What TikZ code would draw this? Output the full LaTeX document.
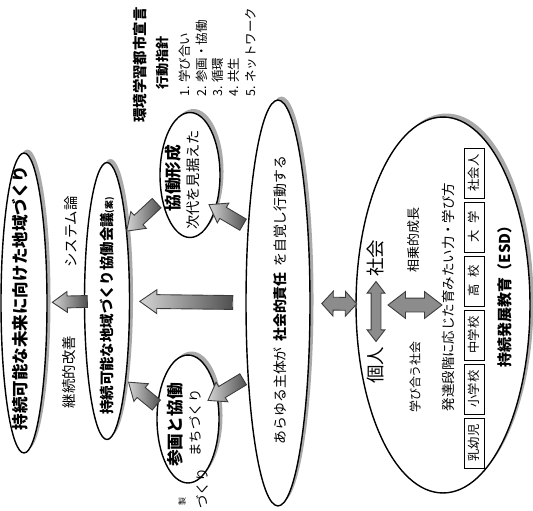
\documentclass[tikz,border=0pt]{standalone}
\usepackage{fontspec}
\setmainfont{Noto Sans CJK JP}
\usetikzlibrary{shapes.geometric,shapes.arrows,shadows}
\definecolor{shadowgray}{HTML}{8E8E8E}
\definecolor{arrowdark}{HTML}{3C3C3C}
\definecolor{arrowlight}{HTML}{D4D4D4}
\newcommand{\fsz}[1]{\fontsize{#1pt}{#1pt}\selectfont}
\tikzset{
  oval/.style={ellipse,draw,line width=.8pt,fill=white,inner sep=0pt,
    drop shadow={shadow xshift=2pt,shadow yshift=2pt,fill=shadowgray,opacity=.75}},
  vlabel/.style={rotate=90,inner sep=0pt},
  blkarrow/.style={single arrow,sloped,allow upside down,draw=arrowdark,line width=.5pt,
    left color=arrowlight,right color=arrowdark!90,inner xsep=0pt,inner ysep=.12cm,
    single arrow head extend=.1cm,single arrow tip angle=70},
  dblarrow/.style={double arrow,sloped,allow upside down,draw=arrowdark,line width=.5pt,
    fill=black!45,inner xsep=0pt,inner ysep=.12cm,double arrow head extend=.12cm,
    double arrow tip angle=75},
  agebox/.style={draw,line width=.5pt,rotate=90,minimum width=1cm,minimum height=.4cm,
    inner sep=0pt,font=\fsz{7}}
}
\begin{document}
\begin{tikzpicture}[x=.02cm,y=-.02cm]
\clip (0,0) rectangle (533,510);
% ovals
\node[oval,minimum width=.92cm,minimum height=6cm] (goal) at (24,303) {};
\node[oval,minimum width=.9cm,minimum height=5.54cm] (kaigi) at (107,301) {};
\node[oval,minimum width=1.2cm,minimum height=2.5cm] (kyodo) at (190,175) {};
\node[oval,minimum width=1.24cm,minimum height=2.56cm] (sankaku) at (188,419) {};
\node[oval,minimum width=1.28cm,minimum height=8.12cm] (sekinin) at (278,303) {};
\node[oval,minimum width=3.48cm,minimum height=7.52cm] (esd) at (443,305) {};

% block arrows
\path (kaigi) -- node[blkarrow,inner ysep=.11cm,single arrow head extend=.09cm,minimum height=.7cm,pos=.27] (arKaigiGoal) {} (goal);
\path (sekinin) -- node[blkarrow,inner ysep=.13cm,minimum height=1.86cm,pos=.47] (arSekininKaigi) {} (kaigi);
\coordinate (kbTail) at (160,200); \coordinate (kbTip) at (130,228);
\path (kbTail) -- node[blkarrow,minimum height=.82cm] (arKyodoKaigi) {} (kbTip);
\coordinate (skTail) at (247,227); \coordinate (skTip) at (213,207);
\path (skTail) -- node[blkarrow,minimum height=.79cm] (arSekininKyodo) {} (skTip);
\coordinate (sbTail) at (160,408); \coordinate (sbTip) at (132,385);
\path (sbTail) -- node[blkarrow,minimum height=.72cm] (arSankakuKaigi) {} (sbTip);
\coordinate (ssTail) at (247,377); \coordinate (ssTip) at (212,398);
\path (ssTail) -- node[blkarrow,minimum height=.82cm] (arSekininSankaku) {} (ssTip);

% texts
\node[vlabel,font=\fsz{9.4}\bfseries] (goaltext) at (20,298) {持続可能な未来に向けた地域づくり};
\node[vlabel,font=\fsz{8.2}] (kaizen) at (69,372) {継続的改善};
\node[vlabel,font=\fsz{8.2}] (system) at (71,232) {システム論};
\node[vlabel,font=\fsz{8.2}\bfseries] (kaigitext) at (107,306) {持続可能な地域づくり協働会議{\fsz{5}(案)}};
\node[vlabel,font=\fsz{9.5}\bfseries] (kyodotext) at (173,178) {協働形成};
\node[vlabel,font=\fsz{8.1}] (jidai) at (193,180) {次代を見据えた};
\node[vlabel,font=\fsz{9.5}\bfseries] (sankakutext) at (175,425) {参画と協働};
\node[vlabel,font=\fsz{7.6}] (machi) at (195,423) {まちづくり};
\node[vlabel,font=\fsz{7.9}] (sekinintext) at (280,300) {あらゆる主体が\hspace{.4em}{\bfseries 社会的責任}\hspace{.4em}を自覚し行動する};
\node[vlabel,font=\fsz{7.6},anchor=east] (frag1) at (202,468) {づくり};
\node[vlabel,font=\fsz{4.5}] (frag2) at (182,502) {製};

% declaration
\node[vlabel,font=\fsz{8.2}\bfseries] (sengen) at (140,65) {環境学習都市宣言};
\node[vlabel,font=\fsz{7.5}\bfseries] (shishin) at (163,63) {行動指針};
\node[vlabel,font=\fsz{7.1},anchor=west] (shishin1) at (185,97) {1. 学び合い};
\node[vlabel,font=\fsz{7.1},anchor=west] (shishin2) at (201.5,97) {2. 参画・協働};
\node[vlabel,font=\fsz{7.1},anchor=west] (shishin3) at (217.5,97) {3. 循環};
\node[vlabel,font=\fsz{7.1},anchor=west] (shishin4) at (233.5,97) {4. 共生};
\node[vlabel,font=\fsz{7.1},anchor=west] (shishin5) at (250.5,97) {5. ネットワーク};

% ESD
\node[vlabel,font=\fsz{10.5}] (kojin) at (376,365) {個人};
\node[vlabel,font=\fsz{10.5}] (shakai) at (376,258) {社会};
\node[vlabel,font=\fsz{6.8}] (manabi) at (415,377) {学び合う社会};
\node[vlabel,font=\fsz{7.4}] (sojo) at (414,240) {相乗的成長};
\node[vlabel,font=\fsz{7.65}] (hattatsu) at (448,297) {発達段階に応じた育みたい力・学び方};
\node[agebox] (age1) at (474,443) {乳幼児};
\node[agebox] (age2) at (474,389) {小学校};
\node[agebox] (age3) at (474,335) {中学校};
\node[agebox] (age4) at (474,281) {高\hspace{.5em}校};
\node[agebox] (age5) at (474,227) {大\hspace{.5em}学};
\node[agebox] (age6) at (474,173) {社会人};
\node[vlabel,font=\fsz{8.5}\bfseries] (esdtext) at (505,293) {持続発展教育（ESD）};

% double arrows
\path (sekinin) -- node[dblarrow,double arrow tip angle=95,minimum height=.7cm,pos=.64] (arSekininEsd) {} (esd);
\path (kojin) -- node[dblarrow,inner ysep=.09cm,double arrow head extend=.08cm,minimum height=1.2cm] (arKojinShakai) {} (shakai);
\coordinate (msLeft) at (388,305); \coordinate (msRight) at (442,305);
\path (msLeft) -- node[dblarrow,inner ysep=.13cm,double arrow head extend=.13cm,minimum height=1.08cm] (arManabiSojo) {} (msRight);
\end{tikzpicture}
\end{document}
